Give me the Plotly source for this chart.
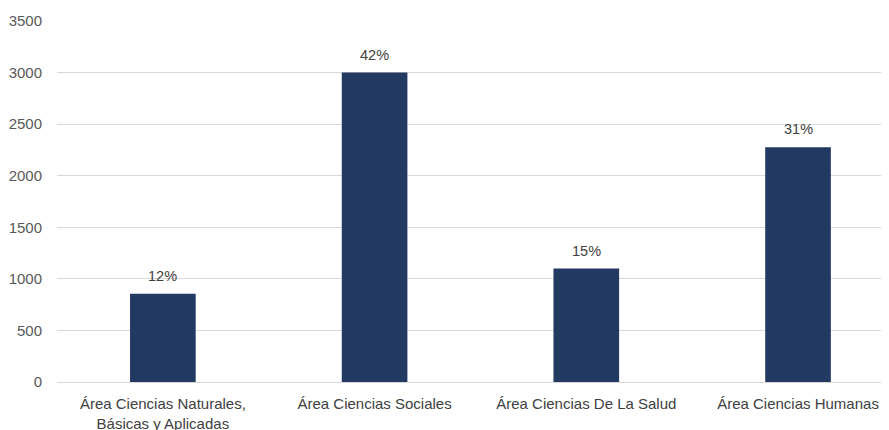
import plotly.graph_objects as go

categories = ["Área Ciencias Naturales,<br>Básicas y Aplicadas", "Área Ciencias Sociales",
              "Área Ciencias De La Salud", "Área Ciencias Humanas"]
values = [855, 3000, 1100, 2275]
pct_labels = ["12%", "42%", "15%", "31%"]
y_ticks = [0, 500, 1000, 1500, 2000, 2500, 3000, 3500]

FONT = "Liberation Sans, Arial, sans-serif"

fig = go.Figure(go.Bar(
    x=categories, y=values,
    marker=dict(color="#223962", line=dict(width=0)),
))
for c, v, t in zip(categories, values, pct_labels):
    fig.add_annotation(x=c, y=v, text=t, showarrow=False, yanchor="bottom", yshift=8,
                       font=dict(family=FONT, size=14.5, color="#404040"))
fig.update_layout(
    width=881, height=422,
    margin=dict(l=49, r=1, t=13, b=48),
    paper_bgcolor="white", plot_bgcolor="white",
    bargap=0.69,
    showlegend=False,
    font=dict(family=FONT, size=15, color="#595959"),
)
fig.update_xaxes(range=[-0.5, 3.425], showline=False, showgrid=False, ticks="",
                 automargin=False, ticklabelstandoff=11,
                 tickfont=dict(size=15, color="#404040"))
fig.update_yaxes(range=[0, 3500], tickvals=y_ticks, showgrid=True, gridcolor="#d9d9d9",
                 gridwidth=1, zeroline=True, zerolinecolor="#d9d9d9", zerolinewidth=1,
                 automargin=False, ticks="", ticklabelstandoff=14,
                 tickfont=dict(size=15, color="#595959"))
fig.write_html("out.html")
